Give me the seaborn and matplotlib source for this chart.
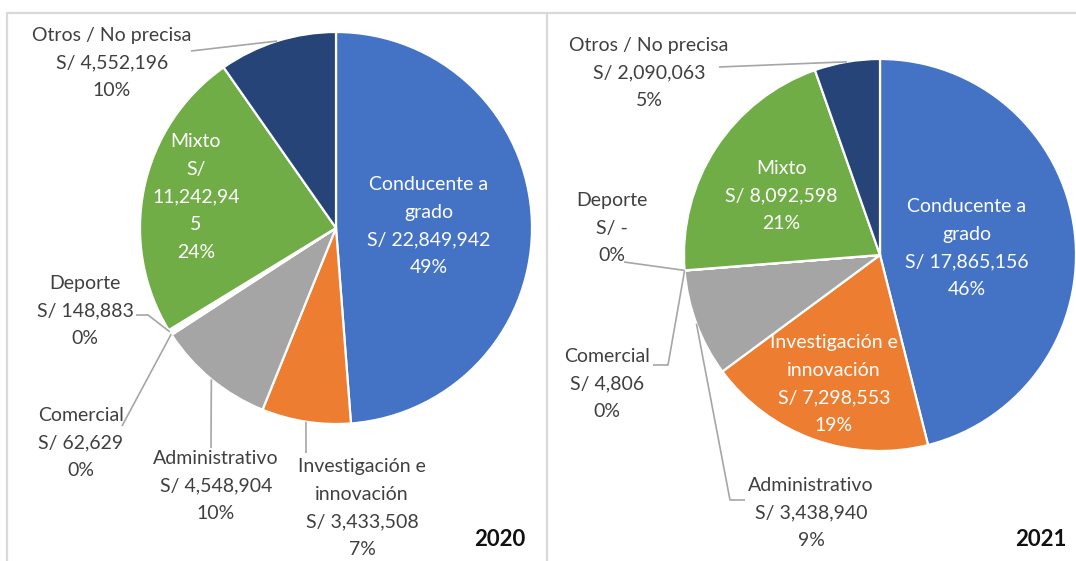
import numpy as np
import matplotlib
matplotlib.use('Agg')
import matplotlib.pyplot as plt
import seaborn as sns

# ── 1. Data ───────────────────────────────────────────────────
categorias = ['Conducente a grado', 'Investigación e innovación', 'Administrativo',
              'Comercial', 'Deporte', 'Mixto', 'Otros / No precisa']
nombres = ['Conducente a\ngrado', 'Investigación e\ninnovación', 'Administrativo',
           'Comercial', 'Deporte', 'Mixto', 'Otros / No precisa']
montos_2020 = [22849942, 3433508, 4548904, 62629, 148883, 11242945, 4552196]
montos_2021 = [17865156, 7298553, 3438940, 4806, 0, 8092598, 2090063]
anios = ['2020', '2021']
# the two tiny slices show up only as a white gap in the original
colores = ['#4472C4', '#ED7D31', '#A5A5A5', '#FFFFFF', '#FFFFFF', '#70AD47', '#264478']

# ── 2. Layout (pixels, y measured from the top) ───────────────
W, H = 1076, 561
layout = {
    '2020': dict(
        centro=(336, 228), radio=196, anio_pos=(525, 540),
        etiquetas={
            'Conducente a grado': dict(pos=(429, 226), dentro=True),
            'Investigación e innovación': dict(pos=(362, 508), guia=[(306, 453)]),
            'Administrativo': dict(pos=(216, 486), guia=[(211, 448)]),
            'Comercial': dict(pos=(81, 443), guia=[(122, 426)]),
            'Deporte': dict(pos=(85, 311), guia=[(148, 315), (136, 315)]),
            'Mixto': dict(pos=(196, 197), dentro=True, corte=9),
            'Otros / No precisa': dict(pos=(112, 63), guia=[(191, 51)]),
        }),
    '2021': dict(
        centro=(880, 255), radio=196, anio_pos=(1067, 540),
        etiquetas={
            'Conducente a grado': dict(pos=(967, 248), dentro=True),
            'Investigación e innovación': dict(pos=(834, 384), dentro=True),
            'Administrativo': dict(pos=(811, 513), guia=[(730, 500), (745, 500)]),
            'Comercial': dict(pos=(607, 384), guia=[(668, 365), (653, 365)]),
            'Deporte': dict(pos=(612, 228), guia=[(624, 262)]),
            'Mixto': dict(pos=(781, 196), dentro=True),
            'Otros / No precisa': dict(pos=(649, 73), guia=[(719, 67)]),
        }),
}


def etiqueta(nombre, monto, pct, corte=None):
    m = f"{monto:,}" if monto else "-"
    if corte:  # narrow Excel box wraps the amount
        txt = "S/\n" + "\n".join(m[i:i + corte] for i in range(0, len(m), corte))
    else:
        txt = f"S/ {m}"
    return f"{nombre}\n{txt}\n{pct:.0f}%"


# ── 3. Plot ───────────────────────────────────────────────────
sns.set_theme(style='white')
plt.rcParams['font.family'] = ['Lato', 'DejaVu Sans']

fig = plt.figure(figsize=(W / 100, H / 100), dpi=100)
ax = fig.add_axes([0, 0, 1, 1])

fs = 14
ls = 1.78
gris_txt = '#404040'
gris_linea = '#A6A6A6'

for anio, montos in zip(anios, [montos_2020, montos_2021]):
    cfg = layout[anio]
    cx, cy = cfg['centro']
    r = cfg['radio']
    wedges, _ = ax.pie(montos, colors=colores, startangle=90, counterclock=False,
                       center=(cx, H - cy), radius=r, frame=True,
                       wedgeprops=dict(edgecolor='white', linewidth=1.6))
    total = sum(montos)
    for w, cat, nom, monto in zip(wedges, categorias, nombres, montos):
        e = cfg['etiquetas'][cat]
        pct = 100 * monto / total
        txt = etiqueta(nom, monto, pct, e.get('corte'))
        lx, ly = e['pos']
        dentro = e.get('dentro', False)
        ax.text(lx, H - ly, txt, ha='center', va='center', fontsize=fs,
                linespacing=ls, color='white' if dentro else gris_txt)
        if 'guia' in e:
            ang = np.deg2rad((w.theta1 + w.theta2) / 2)
            xs = [cx + r * np.cos(ang)] + [p[0] for p in e['guia']]
            ys = [H - cy + r * np.sin(ang)] + [H - p[1] for p in e['guia']]
            ax.plot(xs, ys, color=gris_linea, lw=1.2, solid_capstyle='butt')
    ax.text(cfg['anio_pos'][0], H - cfg['anio_pos'][1], anio, ha='right', va='center',
            fontsize=16, fontweight='bold', color='#111111')

# panel borders
borde = dict(color='#D9D9D9', lw=1.6, clip_on=False)
ax.plot([7, W], [H - 13, H - 13], **borde)
ax.plot([7, 7], [H - 13, 0], **borde)
ax.plot([547, 547], [H - 13, 0], **borde)

ax.set_xlim(0, W)
ax.set_ylim(0, H)
ax.set_aspect('auto')
ax.axis('off')

fig.savefig('out.png', dpi=100)
plt.close()
